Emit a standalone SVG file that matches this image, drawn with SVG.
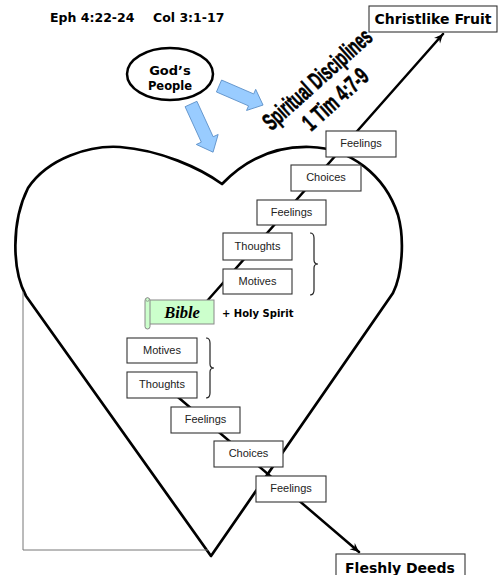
<svg xmlns="http://www.w3.org/2000/svg" width="500" height="575" viewBox="0 0 500 575">
<defs>
<style>
.box{fill:#fff;stroke:#333;stroke-width:1.1}
.bt{font-family:"Liberation Sans",Arial,sans-serif;font-size:11px;fill:#222;text-anchor:middle}
.hd{font-family:"DejaVu Sans",Verdana,sans-serif;font-weight:bold;fill:#000}
.conn{stroke:#000;stroke-width:2.5;fill:none;stroke-linecap:round}
.brace{fill:none;stroke:#222;stroke-width:1.2}
.blue{fill:#99ccff;stroke:#5b8fc7;stroke-width:0.8}
.sd{font-family:"Liberation Sans",Arial,sans-serif;font-weight:bold;font-size:24px;text-anchor:middle;fill:#000;stroke:#000;stroke-width:0.6}
</style>
<marker id="ah" markerWidth="11" markerHeight="11" refX="9" refY="5" orient="auto" markerUnits="userSpaceOnUse">
<path d="M0,1 L9,5 L0,9 L3,5 z" fill="#000"/>
</marker>
</defs>
<rect width="500" height="575" fill="#fff"/>

<g id="title">
<text class="hd" x="50" y="22" font-size="12.5">Eph 4:22-24</text>
<text class="hd" x="153" y="22" font-size="12.5">Col 3:1-17</text>
</g>

<g id="heart">
<path d="M211,556 L26,296 C12,270 11,222 28,188 C48,158 90,145 120,147 C160,150 200,168 222,184 C245,160 275,146 310,147 C350,148 385,175 398,215 C405,240 402,275 393,293 Z" fill="none" stroke="#000" stroke-width="2.7" stroke-linejoin="round"/>
</g>

<g id="frame-line">
<path d="M23,292 L23,550 L208,550" fill="none" stroke="#777" stroke-width="1"/>
</g>

<g id="connectors">
<line class="conn" x1="200" y1="309" x2="443" y2="34" marker-end="url(#ah)"/>
<line class="conn" x1="165" y1="386" x2="359" y2="552" marker-end="url(#ah)"/>
</g>

<g id="gods-people">
<ellipse cx="170" cy="74" rx="43" ry="26" fill="#fff" stroke="#000" stroke-width="2.5"/>
<text class="hd" x="170" y="75" font-size="13" text-anchor="middle">God’s</text>
<text class="hd" x="170" y="90" font-size="11.5" text-anchor="middle">People</text>
</g>

<g id="blue-arrows">
<polygon class="blue" transform="translate(191,104) rotate(65.4)" points="0,-6.5 39,-6.5 39,-12 53,0 39,12 39,6.5 0,6.5"/>
<polygon class="blue" transform="translate(219,86) rotate(23.4)" points="0,-6.5 35,-6.5 35,-11.5 48,0 35,11.5 35,6.5 0,6.5"/>
</g>

<g id="spiritual-disciplines" transform="translate(318,80) rotate(-42)">
<text class="sd" x="0" y="7" textLength="138" lengthAdjust="spacingAndGlyphs">Spiritual Disciplines</text>
<text class="sd" x="0" y="34" textLength="80" lengthAdjust="spacingAndGlyphs">1 Tim 4:7-9</text>
</g>

<g id="christlike-fruit">
<rect class="box" x="369" y="6" width="128" height="26" stroke-width="1.3"/>
<text class="hd" x="433" y="24" font-size="14" text-anchor="middle">Christlike Fruit</text>
</g>

<g id="feelings-1">
<rect class="box" x="326" y="131" width="70" height="26"/>
<text class="bt" x="361" y="147">Feelings</text>
</g>
<g id="choices-1">
<rect class="box" x="291" y="165" width="70" height="26"/>
<text class="bt" x="326" y="181">Choices</text>
</g>
<g id="feelings-2">
<rect class="box" x="257" y="200" width="69" height="25"/>
<text class="bt" x="291.5" y="216">Feelings</text>
</g>
<g id="thoughts-1">
<rect class="box" x="223" y="233" width="69" height="27"/>
<text class="bt" x="257.5" y="250">Thoughts</text>
</g>
<g id="motives-1">
<rect class="box" x="223" y="269" width="69" height="25"/>
<text class="bt" x="257.5" y="285">Motives</text>
</g>
<g id="brace-1">
<path class="brace" d="M310,233 Q314,233 314,238 L314,260 Q314,264 318,264 Q314,264 314,268 L314,290 Q314,295 310,295"/>
</g>

<g id="bible">
<rect x="149" y="300" width="65" height="24" fill="#ccffcc" stroke="#888" stroke-width="1"/>
<rect x="145" y="298" width="5" height="31" rx="2.5" fill="#ccffcc" stroke="#888" stroke-width="1"/>
<circle cx="147.5" cy="299.5" r="1.8" fill="#ccffcc" stroke="#888" stroke-width="0.8"/>
<text x="182" y="318" font-family="'Liberation Serif','Times New Roman',serif" font-weight="bold" font-style="italic" font-size="16.5" text-anchor="middle" fill="#000">Bible</text>
</g>
<g id="holy-spirit">
<text class="hd" x="222" y="317" font-size="10">+ Holy Spirit</text>
</g>

<g id="motives-2">
<rect class="box" x="127" y="338" width="70" height="25"/>
<text class="bt" x="162" y="354">Motives</text>
</g>
<g id="thoughts-2">
<rect class="box" x="127" y="372" width="70" height="26"/>
<text class="bt" x="162" y="388">Thoughts</text>
</g>
<g id="brace-2">
<path class="brace" d="M206,338 Q210,338 210,343 L210,364 Q210,368 214,368 Q210,368 210,372 L210,393 Q210,398 206,398"/>
</g>
<g id="feelings-3">
<rect class="box" x="171" y="407" width="69" height="26"/>
<text class="bt" x="205.5" y="423">Feelings</text>
</g>
<g id="choices-2">
<rect class="box" x="214" y="441" width="69" height="26"/>
<text class="bt" x="248.5" y="457">Choices</text>
</g>
<g id="feelings-4">
<rect class="box" x="256" y="476" width="70" height="26"/>
<text class="bt" x="291" y="492">Feelings</text>
</g>

<g id="fleshly-deeds">
<rect class="box" x="336" y="554" width="129" height="30" stroke-width="1.3"/>
<text class="hd" x="400" y="573" font-size="14" text-anchor="middle">Fleshly Deeds</text>
</g>
</svg>
